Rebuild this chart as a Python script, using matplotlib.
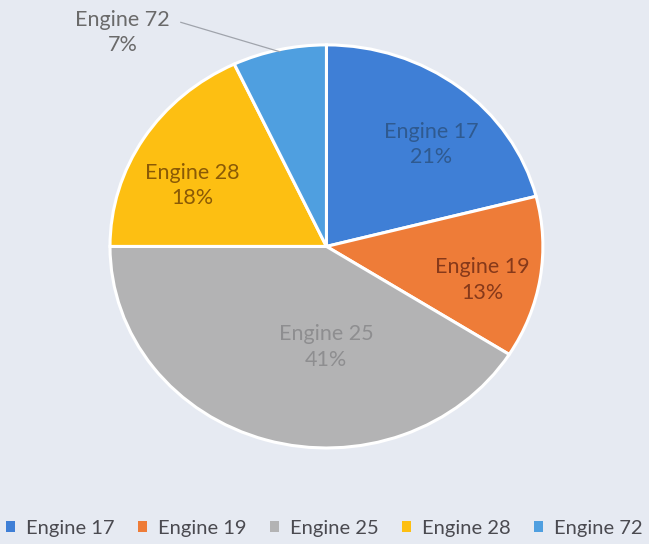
import numpy as np
import matplotlib.pyplot as plt
from matplotlib.patches import Patch

plt.rcParams['font.family'] = ['Lato', 'DejaVu Sans']

# data
engines = ['Engine 17', 'Engine 19', 'Engine 25', 'Engine 28', 'Engine 72']
shares = [21, 13, 41, 18, 7]
colors = ['#3f7fd6', '#ee7c38', '#b3b3b4', '#fdbf12', '#4f9fe0']
label_colors = ['#2f5a90', '#86391a', '#8e8e90', '#8a5a06', '#6a6a6a']
# radial distance of each label (fraction of radius) and small angle nudge (deg)
label_r = [0.70, 0.74, 0.50, 0.69, 1.42]
label_nudge = [-6, -4, 16, 6.5, 29]

bg = '#e6eaf2'
fig = plt.figure(figsize=(6.49, 5.44), dpi=100, facecolor=bg)
ax = fig.add_axes([0.1695, 0.1765, 0.667, 0.741])
ax.set_facecolor(bg)

wedges, _ = ax.pie(shares, colors=colors, startangle=90, counterclock=False,
                   wedgeprops=dict(edgecolor='white', linewidth=2.2))
ax.set_aspect('auto')
ax.set_xlim(-1, 1)
ax.set_ylim(-1, 1)
ax.axis('off')

for w, name, pct, c, r, nd in zip(wedges, engines, shares, label_colors, label_r, label_nudge):
    mid = np.deg2rad((w.theta1 + w.theta2) / 2 + nd)
    x, y = r * np.cos(mid), r * np.sin(mid)
    ax.text(x, y, f'{name}\n{pct}%', ha='center', va='center', color=c,
            fontsize=15.5, linespacing=1.35, clip_on=False)
    if r > 1:
        edge = np.deg2rad((w.theta1 + w.theta2) / 2)
        ax.plot([x + 0.27, np.cos(edge) * 0.99], [y + 0.05, np.sin(edge) * 0.99],
                color='#a0a4ac', lw=0.9, clip_on=False)

handles = [Patch(facecolor=c, edgecolor='none') for c in colors]
leg = fig.legend(handles, engines, loc='lower center', ncol=5, frameon=False,
                 bbox_to_anchor=(0.5, -0.02), handlelength=0.45, handleheight=0.45,
                 handletextpad=0.55, columnspacing=1.15, fontsize=14.5)
for t in leg.get_texts():
    t.set_color('#4a4a50')

fig.savefig('out.png', dpi=100, facecolor=bg)
